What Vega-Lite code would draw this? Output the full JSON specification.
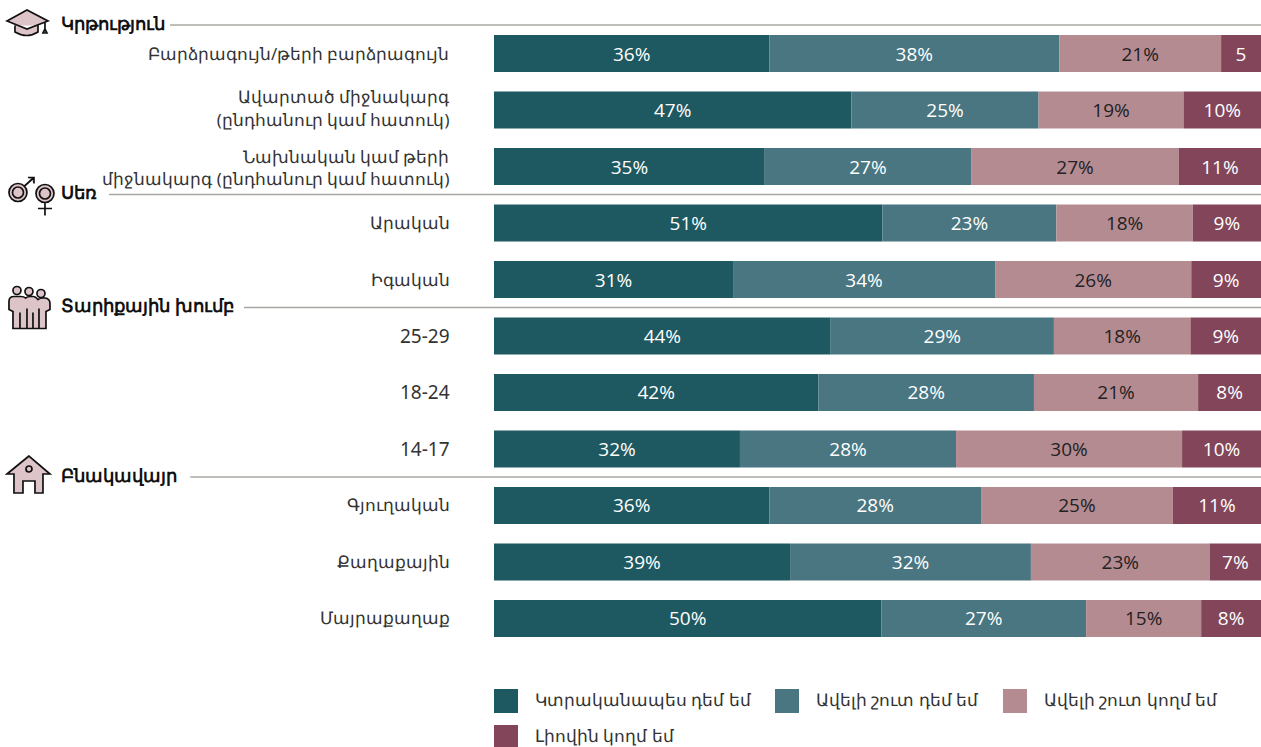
{"$schema":"https://vega.github.io/schema/vega-lite/v6.json","width":767,"height":747,"autosize":"none","padding":{"left":494,"top":0,"right":0,"bottom":0},"background":"white",
"config":{"view":{"stroke":null},"font":"Noto Sans","axisY":{"domain":false,"ticks":false,"grid":false,"labelPadding":45,"labelFontSize":{"expr":"test(/^[0-9]/, datum.label) ? 19 : 16.7"},"labelOffset":{"expr":"test(/^Ավարտած/, datum.label) ? -12 : test(/^Նախնական/, datum.label) ? -9 : 1"},"labelColor":"#333","labelLimit":0,"labelLineHeight":22.5,"labelExpr":"split(datum.label,'|')"}},
"datasets":{"bars":[
{"row":"Բարձրագույն/թերի բարձրագույն","response":"Կտրականապես դեմ եմ","order":0,"value":35.9,"label":"36%"},{"row":"Բարձրագույն/թերի բարձրագույն","response":"Ավելի շուտ դեմ եմ","order":1,"value":37.8,"label":"38%"},{"row":"Բարձրագույն/թերի բարձրագույն","response":"Ավելի շուտ կողմ եմ","order":2,"value":21.1,"label":"21%"},{"row":"Բարձրագույն/թերի բարձրագույն","response":"Լիովին կողմ եմ","order":3,"value":5.2,"label":"5"},
{"row":"Ավարտած միջնակարգ |(ընդհանուր կամ հատուկ)","response":"Կտրականապես դեմ եմ","order":0,"value":46.6,"label":"47%"},{"row":"Ավարտած միջնակարգ |(ընդհանուր կամ հատուկ)","response":"Ավելի շուտ դեմ եմ","order":1,"value":24.4,"label":"25%"},{"row":"Ավարտած միջնակարգ |(ընդհանուր կամ հատուկ)","response":"Ավելի շուտ կողմ եմ","order":2,"value":18.9,"label":"19%"},{"row":"Ավարտած միջնակարգ |(ընդհանուր կամ հատուկ)","response":"Լիովին կողմ եմ","order":3,"value":10.1,"label":"10%"},
{"row":"Նախնական կամ թերի|միջնակարգ (ընդհանուր կամ հատուկ)","response":"Կտրականապես դեմ եմ","order":0,"value":35.3,"label":"35%"},{"row":"Նախնական կամ թերի|միջնակարգ (ընդհանուր կամ հատուկ)","response":"Ավելի շուտ դեմ եմ","order":1,"value":26.9,"label":"27%"},{"row":"Նախնական կամ թերի|միջնակարգ (ընդհանուր կամ հատուկ)","response":"Ավելի շուտ կողմ եմ","order":2,"value":27.1,"label":"27%"},{"row":"Նախնական կամ թերի|միջնակարգ (ընդհանուր կամ հատուկ)","response":"Լիովին կողմ եմ","order":3,"value":10.7,"label":"11%"},
{"row":"Արական","response":"Կտրականապես դեմ եմ","order":0,"value":50.7,"label":"51%"},{"row":"Արական","response":"Ավելի շուտ դեմ եմ","order":1,"value":22.7,"label":"23%"},{"row":"Արական","response":"Ավելի շուտ կողմ եմ","order":2,"value":17.8,"label":"18%"},{"row":"Արական","response":"Լիովին կողմ եմ","order":3,"value":8.9,"label":"9%"},
{"row":"Իգական","response":"Կտրականապես դեմ եմ","order":0,"value":31.2,"label":"31%"},{"row":"Իգական","response":"Ավելի շուտ դեմ եմ","order":1,"value":34.2,"label":"34%"},{"row":"Իգական","response":"Ավելի շուտ կողմ եմ","order":2,"value":25.6,"label":"26%"},{"row":"Իգական","response":"Լիովին կողմ եմ","order":3,"value":9.1,"label":"9%"},
{"row":"25-29","response":"Կտրականապես դեմ եմ","order":0,"value":43.9,"label":"44%"},{"row":"25-29","response":"Ավելի շուտ դեմ եմ","order":1,"value":29.1,"label":"29%"},{"row":"25-29","response":"Ավելի շուտ կողմ եմ","order":2,"value":17.8,"label":"18%"},{"row":"25-29","response":"Լիովին կողմ եմ","order":3,"value":9.2,"label":"9%"},
{"row":"18-24","response":"Կտրականապես դեմ եմ","order":0,"value":42.3,"label":"42%"},{"row":"18-24","response":"Ավելի շուտ դեմ եմ","order":1,"value":28.1,"label":"28%"},{"row":"18-24","response":"Ավելի շուտ կողմ եմ","order":2,"value":21.4,"label":"21%"},{"row":"18-24","response":"Լիովին կողմ եմ","order":3,"value":8.2,"label":"8%"},
{"row":"14-17","response":"Կտրականապես դեմ եմ","order":0,"value":32.1,"label":"32%"},{"row":"14-17","response":"Ավելի շուտ դեմ եմ","order":1,"value":28.2,"label":"28%"},{"row":"14-17","response":"Ավելի շուտ կողմ եմ","order":2,"value":29.5,"label":"30%"},{"row":"14-17","response":"Լիովին կողմ եմ","order":3,"value":10.3,"label":"10%"},
{"row":"Գյուղական","response":"Կտրականապես դեմ եմ","order":0,"value":35.9,"label":"36%"},{"row":"Գյուղական","response":"Ավելի շուտ դեմ եմ","order":1,"value":27.6,"label":"28%"},{"row":"Գյուղական","response":"Ավելի շուտ կողմ եմ","order":2,"value":25.0,"label":"25%"},{"row":"Գյուղական","response":"Լիովին կողմ եմ","order":3,"value":11.5,"label":"11%"},
{"row":"Քաղաքային","response":"Կտրականապես դեմ եմ","order":0,"value":38.6,"label":"39%"},{"row":"Քաղաքային","response":"Ավելի շուտ դեմ եմ","order":1,"value":31.4,"label":"32%"},{"row":"Քաղաքային","response":"Ավելի շուտ կողմ եմ","order":2,"value":23.3,"label":"23%"},{"row":"Քաղաքային","response":"Լիովին կողմ եմ","order":3,"value":6.7,"label":"7%"},
{"row":"Մայրաքաղաք","response":"Կտրականապես դեմ եմ","order":0,"value":50.5,"label":"50%"},{"row":"Մայրաքաղաք","response":"Ավելի շուտ դեմ եմ","order":1,"value":26.7,"label":"27%"},{"row":"Մայրաքաղաք","response":"Ավելի շուտ կողմ եմ","order":2,"value":15.0,"label":"15%"},{"row":"Մայրաքաղաք","response":"Լիովին կողմ եմ","order":3,"value":7.8,"label":"8%"}
],
"headings":[
{"heading":"Կրթություն","row":"Բարձրագույն/թերի բարձրագույն","lineStart":-0.4224,"lineEnd":1,"textStart":-0.5645,"iconAt":-0.6076,"icon":"cap"},
{"heading":"Սեռ","row":"Արական","lineStart":-0.502,"lineEnd":1,"textStart":-0.5645,"iconAt":-0.6076,"icon":"gender"},
{"heading":"Տարիքային խումբ","row":"25-29","lineStart":-0.326,"lineEnd":1,"textStart":-0.5645,"iconAt":-0.6076,"icon":"people"},
{"heading":"Բնակավայր","row":"Գյուղական","lineStart":-0.396,"lineEnd":1,"textStart":-0.5645,"iconAt":-0.6076,"icon":"house"}
]},
"layer":[
{"data":{"name":"bars"},"mark":{"type":"bar"},
"encoding":{
"y":{"field":"row","type":"nominal","sort":null,"title":null,
"scale":{"domain":["Բարձրագույն/թերի բարձրագույն","Ավարտած միջնակարգ |(ընդհանուր կամ հատուկ)","Նախնական կամ թերի|միջնակարգ (ընդհանուր կամ հատուկ)","Արական","Իգական","25-29","18-24","14-17","Գյուղական","Քաղաքային","Մայրաքաղաք"],"range":[35,637],"paddingInner":0.345,"paddingOuter":0}},
"x":{"field":"value","type":"quantitative","stack":"normalize","axis":null,"scale":{"domain":[0,1]}},
"order":{"field":"order","type":"quantitative"},
"color":{"field":"response","type":"nominal","scale":{"domain":["Կտրականապես դեմ եմ","Ավելի շուտ դեմ եմ","Ավելի շուտ կողմ եմ","Լիովին կողմ եմ"],"range":["#1e5962","#497681","#b58b92","#834559"]},
"legend":{"title":null,"orient":"none","direction":"horizontal","legendX":0,"legendY":689,"padding":0,"columns":3,"symbolType":"square","symbolSize":576,"symbolStrokeWidth":0,"symbolOpacity":1,"labelFontSize":16.7,"labelColor":"#333","labelOffset":17,"columnPadding":24,"rowPadding":12,"labelLimit":0,"labelExpr":"datum.label == 'Ավելի շուտ դեմ եմ' ? datum.label + '\u00a0\u00a0\u00a0\u00a0' : datum.label"}}}},
{"data":{"name":"bars"},"mark":{"type":"text","fontSize":19,"font":"Open Sans","baseline":"middle","dy":1},
"encoding":{
"y":{"field":"row","type":"nominal","sort":null,"title":null},
"x":{"field":"value","type":"quantitative","stack":"normalize","bandPosition":0.5,"axis":null},
"detail":{"field":"response"},
"order":{"field":"order","type":"quantitative"},
"text":{"field":"label"},
"color":{"condition":{"test":"datum.order==2","value":"#222222"},"value":"#ffffff"}}},
{"data":{"name":"headings"},"mark":{"type":"rule","stroke":"#a8a8a4","strokeWidth":1.3,"yOffset":-10},
"encoding":{"x":{"field":"lineStart","type":"quantitative","axis":null},"x2":{"field":"lineEnd"},"y":{"field":"row","type":"nominal","bandPosition":0,"sort":null,"title":null}}},
{"data":{"name":"headings"},"mark":{"type":"text","align":"left","baseline":"middle","fontSize":17.5,"fontWeight":"bold","color":"#111","yOffset":-10},
"encoding":{"x":{"field":"textStart","type":"quantitative","axis":null},"y":{"field":"row","type":"nominal","bandPosition":0,"sort":null,"title":null},"text":{"field":"heading"}}},
{"data":{"name":"headings"},"mark":{"type":"point","filled":true,"fill":"#dcc4c9","stroke":"#111","strokeWidth":1.7,"opacity":1,"size":2500,"yOffset":-10},
"encoding":{"x":{"field":"iconAt","type":"quantitative","axis":null},"y":{"field":"row","type":"nominal","bandPosition":0,"sort":null,"title":null},
"shape":{"field":"icon","type":"nominal","legend":null,"scale":{"domain":["cap","gender","people","house"],"range":[
"M-.84,-.16 L-.04,-.6 L.8,-.16 L-.04,.16 Z M-.52,.02 V.28 Q-.04,.56 .4,.28 V.02 M.68,-.12 V.2 M.6,.32 L.68,.16 L.76,.32 Z",
"M-.76,-.08 a.36,.36 0 1,0 .72,0 a.36,.36 0 1,0 -.72,0 M-.62,-.08 a.22,.22 0 1,0 .44,0 a.22,.22 0 1,0 -.44,0 M-.16,-.32 L.24,-.68 M0,-.68 H.24 V-.44 M.32,-.04 a.36,.36 0 1,0 .72,0 a.36,.36 0 1,0 -.72,0 M.46,-.04 a.22,.22 0 1,0 .44,0 a.22,.22 0 1,0 -.44,0 M.68,.32 V.84 M.4,.56 H.96",
"M-.6,-.68 a.16,.16 0 1,0 .32,0 a.16,.16 0 1,0 -.32,0 M-.12,-.64 a.16,.16 0 1,0 .32,0 a.16,.16 0 1,0 -.32,0 M.36,-.56 a.16,.16 0 1,0 .32,0 a.16,.16 0 1,0 -.32,0 M-.6,.84 V.16 L-.76,.08 V-.24 Q-.76,-.44 -.56,-.44 H-.28 Q-.16,-.44 -.1,-.38 Q-.02,-.44 .1,-.44 H.22 Q.3,-.44 .4,-.32 Q.48,-.38 .6,-.38 H.68 Q.88,-.36 .88,-.16 V.08 L.72,.16 V.84 Z M-.32,.84 V.2 M-.04,.84 V.04 M.2,.84 V.2 M.44,.84 V.04",
"M.04,-.84 L-.84,-.12 H-.56 V.64 H-.2 V.16 H.28 V.64 H.6 V-.12 H.88 Z M-.08,-.32 a.12,.12 0 1,0 .24,0 a.12,.12 0 1,0 -.24,0"
]}}}}
]}
